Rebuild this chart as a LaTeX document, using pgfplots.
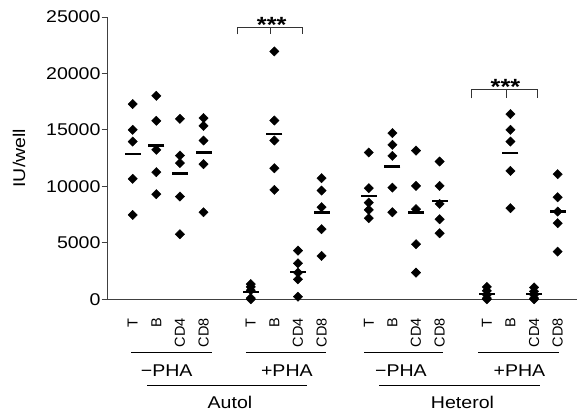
\documentclass[border=0pt]{standalone}
\usepackage{fontspec}
\setmainfont{Liberation Sans}[FakeStretch=1.15]
\newfontfamily\catfont{Liberation Sans}
\usepackage{pgfplots}
\pgfplotsset{compat=1.18}
\usepackage{pgfplotstable}
\usetikzlibrary{calc}

% individual wells: x = category slot, y = IU/well
\pgfplotstableread{
x y
0 17290
0 15010
0 13970
0 10670
0 7470
1 18020
1 15810
1 13240
1 11260
1 9310
2 15980
2 12730
2 12060
2 9100
2 5760
3 16050
3 15360
3 14060
3 11970
3 7710
5 1350
5 1100
5 800
5 100
5 0
6 21950
6 15830
6 14060
6 11610
6 9690
7 4310
7 3190
7 2360
7 1770
7 230
8 10730
8 9630
8 8160
8 6210
8 3840
10 13000
10 9840
10 8560
10 7920
10 7180
11 14720
11 13680
11 12700
11 9890
11 7710
12 13170
12 10040
12 7980
12 4880
12 2360
13 12200
13 10040
13 8450
13 7090
13 5850
15 1100
15 750
15 400
15 100
15 0
16 16400
16 15010
16 13970
16 11370
16 8070
17 1050
17 700
17 400
17 100
17 0
18 11080
18 9040
18 7770
18 6740
18 4220
}\points

% group means
\pgfplotstableread{
x y
0 12880
1 13620
2 11130
3 13000
5 650
6 14650
7 2400
8 7680
10 9160
11 11760
12 7680
13 8710
15 470
16 12940
17 480
18 7770
}\means

\newcommand\lblfont{\fontsize{17bp}{20bp}\selectfont}

\begin{document}
\begin{tikzpicture}
\begin{axis}[
  scale only axis, width=469bp, height=282.3bp,
  xmin=-1.047, xmax=18.82, ymin=0, ymax=25000,
  axis x line=bottom, axis y line=left,
  axis line style={-, draw=black!75, line width=1bp},
  clip=false,
  xtick={0,1,2,3,5,6,7,8,10,11,12,13,15,16,17,18},
  xticklabels={T,B,CD4,CD8,T,B,CD4,CD8,T,B,CD4,CD8,T,B,CD4,CD8},
  x tick style={draw=none},
  xticklabel style={rotate=90, anchor=east, inner sep=0pt,
    font=\catfont\fontsize{14.5bp}{17bp}\selectfont},
  xticklabel shift=12.4bp,
  ytick={0,5000,10000,15000,20000,25000},
  tick align=outside, major tick length=6.3bp,
  y tick style={draw=black!75, line width=1bp},
  yticklabel style={font=\lblfont, inner sep=1bp},
  scaled y ticks=false,
  /pgf/number format/1000 sep={},
  /pgf/number format/assume math mode=true,
  ylabel={IU/well},
  ylabel style={at={(axis description cs:-0.1898,0.5)}, anchor=center, font=\lblfont},
]
\addplot[only marks, mark=square*, mark size=3.3bp,
  mark options={rotate=45, fill=black, draw=black}] table[x=x, y=y] {\points};
\addplot[only marks, mark=-, mark size=8bp,
  mark options={line width=2.3bp, draw=black}] table[x=x, y=y] {\means};

% significance brackets
\draw[black!80, line width=0.9bp] (axis cs:4.43,23468) |- (axis cs:7.2,24053) -- (axis cs:7.2,23468);
\draw[black!80, line width=0.9bp] (axis cs:5.85,24053) -- (axis cs:5.85,23468);
\node[anchor=base, inner sep=0pt, font=\fontsize{22bp}{26bp}\selectfont\bfseries] at (axis cs:5.89,23650) {***};
\draw[black!80, line width=0.9bp] (axis cs:14.36,17801) |- (axis cs:17.14,18598) -- (axis cs:17.14,17801);
\draw[black!80, line width=0.9bp] (axis cs:15.82,18598) -- (axis cs:15.82,17801);
\node[anchor=base, inner sep=0pt, font=\fontsize{22bp}{26bp}\selectfont\bfseries] at (axis cs:15.79,18130) {***};

% group annotations below the axis
\draw[line width=1bp] (axis cs:-0.07,-4729) -- (axis cs:3.35,-4729);
\draw[line width=1bp] (axis cs:4.79,-4729) -- (axis cs:8.18,-4729);
\draw[line width=1bp] (axis cs:9.80,-4729) -- (axis cs:13.16,-4729);
\draw[line width=1bp] (axis cs:14.64,-4729) -- (axis cs:18.06,-4729);
\node[anchor=base, inner sep=0pt, font=\lblfont] at (axis cs:1.44,-6855) {−PHA};
\node[anchor=base, inner sep=0pt, font=\lblfont] at (axis cs:6.53,-6855) {+PHA};
\node[anchor=base, inner sep=0pt, font=\lblfont] at (axis cs:11.36,-6855) {−PHA};
\node[anchor=base, inner sep=0pt, font=\lblfont] at (axis cs:16.38,-6855) {+PHA};
\draw[line width=1bp] (axis cs:0.62,-7590) -- (axis cs:7.40,-7590);
\draw[line width=1bp] (axis cs:10.45,-7590) -- (axis cs:17.26,-7590);
\node[anchor=base, inner sep=0pt, font=\lblfont] at (axis cs:4.12,-9653) {Autol};
\node[anchor=base, inner sep=0pt, font=\lblfont] at (axis cs:13.97,-9653) {Heterol};
\end{axis}
\pgfresetboundingbox
\path[use as bounding box] ($(current axis.south west)+(-108bp,-111.7bp)$) rectangle ++(577bp,411bp);
\end{tikzpicture}
\end{document}
